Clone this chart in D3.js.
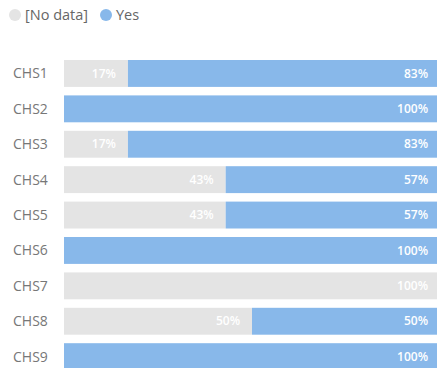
<!DOCTYPE html>
<meta charset="utf-8">
<script src="https://d3js.org/d3.v7.min.js"></script>
<style>
body { margin: 0; background: #fff; overflow: hidden; }
text { font-family: "Open Sans", sans-serif; }
</style>
<div id="main"></div>
<script>
// data
const categories = ["CHS1", "CHS2", "CHS3", "CHS4", "CHS5", "CHS6", "CHS7", "CHS8", "CHS9"];
const noData = [0.17, 0, 0.17, 0.43, 0.43, 0, 1, 0.5, 0];
const yes = [0.83, 1, 0.83, 0.57, 0.57, 1, 0, 0.5, 1];
const seriesNames = ["[No data]", "Yes"];
const colors = ["#e4e4e4", "#88b8ea"];

const width = 437, height = 368;

const svg = d3.select("#main").append("svg")
    .attr("width", width)
    .attr("height", height);

const x = d3.scaleLinear().domain([0, 1]).range([64, 440]);
const y = d3.scaleBand().domain(categories).range([55.75, 374.35]).paddingInner(0.24).paddingOuter(0.12);

const rows = categories.map((c, i) => ({cat: c, noData: noData[i], yes: yes[i]}));
const stack = d3.stack().keys(["noData", "yes"])(rows);

// legend
const legend = svg.append("g").attr("font-size", 14.5).attr("fill", "#666");
const legX = [15, 106];
seriesNames.forEach((n, i) => {
  legend.append("circle").attr("cx", legX[i]).attr("cy", 15).attr("r", 6).attr("fill", colors[i]);
  legend.append("text").attr("x", legX[i] + 10).attr("y", 15).attr("dy", "0.35em").text(n);
});

// category labels
svg.append("g").attr("font-size", 14).attr("fill", "#777")
  .selectAll("text").data(categories).join("text")
    .attr("x", 13)
    .attr("y", d => y(d) + y.bandwidth() / 2)
    .attr("dy", "0.35em")
    .text(d => d);

const fmt = d3.format(".0%");

stack.forEach((s, si) => {
  const g = svg.append("g");
  g.selectAll("rect").data(s.filter(d => d[1] - d[0] > 0)).join("rect")
      .attr("x", d => x(d[0]))
      .attr("y", d => y(d.data.cat))
      .attr("width", d => x(d[1]) - x(d[0]))
      .attr("height", y.bandwidth())
      .attr("fill", colors[si]);
  g.selectAll("text").data(s.filter(d => d[1] - d[0] > 0)).join("text")
      .attr("x", d => x(d[1]) - 12)
      .attr("y", d => y(d.data.cat) + y.bandwidth() / 2)
      .attr("dy", "0.35em")
      .attr("text-anchor", "end")
      .attr("font-size", 12)
      .attr("font-weight", 600)
      .attr("fill", "#fff")
      .text(d => fmt(d[1] - d[0]));
});
</script>
